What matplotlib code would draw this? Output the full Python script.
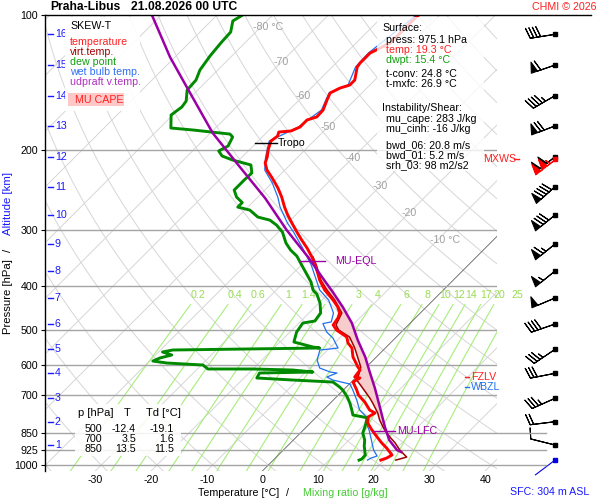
import numpy as np
import matplotlib
matplotlib.use("Agg")
import matplotlib.pyplot as plt
from matplotlib.lines import Line2D
from matplotlib.patches import Rectangle

plt.rcParams['font.family'] = ['Liberation Sans', 'DejaVu Sans']

# ---------------- data ----------------
station = "Praha-Libus"
valid_time = "21.08.2026 00 UTC"

temp_p = [100.0, 102.6, 108.0, 115.5, 118.4, 121.5, 127.9, 130.5, 139.5, 143.1, 145.3, 149.0,
          154.5, 162.6, 168.5, 171.1, 177.4, 181.0, 182.0, 185.8, 190.6, 199.5, 206.8, 213.2,
          221.1, 229.2, 236.3, 242.4, 253.9, 267.2, 278.3, 290.0, 303.6, 316.3, 329.5, 345.1,
          359.4, 374.5, 388.1, 408.4, 429.9, 445.6, 459.4, 471.4, 488.5, 501.2, 519.5, 535.7,
          549.5, 575.4, 605.7, 615.0, 637.4, 640.6, 653.9, 681.3, 698.9, 724.4, 754.6, 766.3,
          782.0, 806.6, 835.9, 866.5, 893.3, 916.9, 950.1, 964.7, 975.1]
temp_t = [-53.8, -53.9, -53.9, -53.9, -54.8, -55.7, -55.7, -55.5, -53.6, -53.6, -54.8, -55.7,
          -55.0, -53.9, -53.8, -55.0, -55.0, -55.9, -57.9, -57.4, -57.7, -56.6, -55.5, -54.8,
          -53.2, -51.1, -49.4, -48.0, -45.7, -43.4, -41.4, -39.2, -36.7, -34.4, -32.0, -29.5,
          -27.5, -25.6, -24.0, -21.3, -18.0, -15.9, -14.5, -13.9, -13.5, -12.0, -8.9, -7.6,
          -6.0, -4.2, -1.5, -0.6, -0.3, 0.8, 0.3, 2.4, 3.6, 6.0, 8.3, 9.8,
          9.3, 10.3, 12.3, 14.5, 16.4, 18.2, 20.4, 20.0, 19.3]

tv_p = [345.1, 359.4, 374.5, 388.1, 408.4, 429.9, 459.4, 488.5, 501.2, 519.5, 549.5, 605.7,
        637.4, 647.3, 671.0, 710.0, 728.1, 766.3, 794.3, 831.6, 866.5, 893.3, 926.1, 960.0, 975.1]
tv_t = [-29.3, -27.3, -25.4, -23.8, -20.9, -17.7, -14.1, -13.0, -11.6, -8.4, -5.5, -1.0,
        0.3, 0.6, 2.8, 6.2, 7.6, 10.3, 11.9, 14.3, 16.8, 18.8, 20.9, 23.4, 22.0]

dwpt_p = [100.0, 103.1, 109.1, 115.4, 123.4, 132.5, 139.5, 146.8, 155.3, 160.1, 166.8, 178.3,
          180.1, 183.9, 186.7, 195.5, 200.5, 205.7, 210.0, 215.4, 224.4, 232.7, 244.9, 253.9,
          261.1, 267.2, 271.3, 281.2, 285.6, 293.0, 303.6, 321.1, 332.9, 343.3, 357.6, 376.4,
          392.0, 408.4, 416.9, 436.6, 459.4, 478.6, 483.6, 506.4, 532.9, 546.6, 549.5, 555.1,
          560.8, 569.5, 578.4, 587.4, 593.4, 599.5, 611.8, 611.8, 615.0, 621.3, 624.5, 640.6,
          647.3, 654.0, 671.0, 681.3, 705.3, 728.1, 754.6, 774.2, 782.0, 786.0, 823.2, 848.9,
          879.8, 907.3, 950.1, 969.7, 975.1]
dwpt_t = [-85.4, -86.1, -84.5, -84.3, -83.9, -83.2, -82.1, -81.9, -80.1, -79.8, -80.3, -78.0,
          -73.7, -66.3, -65.3, -64.5, -65.3, -63.8, -61.2, -57.0, -55.4, -55.5, -55.5, -53.8,
          -51.8, -51.8, -49.1, -46.4, -43.7, -41.6, -39.3, -36.7, -34.6, -32.4, -30.2, -27.4,
          -25.2, -23.4, -22.0, -19.8, -17.9, -17.5, -19.3, -18.8, -17.5, -13.2, -11.8, -37.8,
          -39.3, -37.1, -38.7, -39.4, -36.5, -29.7, -28.1, -20.0, -12.7, -8.7, -18.1, -17.7,
          -10.9, -3.3, -1.2, -0.1, 1.9, 3.5, 5.1, 6.2, 8.4, 9.3, 10.5, 11.2,
          12.8, 13.8, 15.6, 15.7, 15.4]

wetb_p = [100.0, 121.5, 130.5, 143.1, 149.0, 162.6, 177.4, 190.6, 206.8, 221.1, 236.3, 253.9,
          267.2, 290.0, 303.6, 329.5, 359.4, 388.1, 408.4, 429.9, 459.4, 480.8, 485.0, 506.4,
          522.2, 549.5, 552.3, 555.1, 584.3, 608.8, 621.3, 624.5, 637.4, 647.3, 660.7, 681.3,
          717.0, 754.6, 782.0, 806.6, 835.9, 879.8, 926.1, 954.9, 964.7, 975.1]
wetb_t = [-54.2, -56.0, -55.8, -53.9, -55.9, -54.2, -55.3, -58.0, -55.8, -53.6, -49.9, -46.4,
          -44.2, -40.0, -37.3, -32.8, -28.2, -24.6, -22.2, -18.8, -15.6, -14.4, -15.6, -13.4,
          -11.2, -8.5, -9.8, -11.4, -10.1, -8.2, -5.6, -4.2, -5.3, -3.7, 0.1, 1.7,
          4.2, 6.5, 9.0, 10.0, 11.8, 14.0, 16.2, 17.9, 17.2, 16.9]

parcel_p = [100.0, 124.0, 144.6, 182.9, 217.7, 255.2, 300.5, 345.1, 384.2, 412.6, 445.6,
            483.6, 527.5, 575.4, 621.3, 674.4, 743.2, 823.2, 879.8, 926.1, 935.7]
parcel_t = [-101.7, -90.9, -82.5, -69.6, -58.6, -48.5, -38.9, -30.2, -23.8, -19.5, -15.0,
            -10.5, -6.4, -2.0, 1.5, 5.3, 9.6, 14.1, 17.2, 20.4, 21.5]

# special levels [hPa]
tropo_p = 192.5
eql_p = 352.5
lfc_p = 840.0
fzlv_p = 637.0
wbzl_p = 671.0
mxws_p = 209.0
sfc_p = 975.1

# altitude scale (km) and winds at those levels (direction deg, speed kt)
km_levels = list(range(1, 17))
km_p = [902.6, 801.2, 710.8, 625.5, 553.3, 486.1, 425.4, 370.6, 322.8, 278.3,
        240.7, 206.5, 176.4, 151.1, 129.2, 110.4]
wind_dir = [284, 263, 246, 259, 236, 251, 247, 231, 231, 231, 228, 231, 249, 240, 251, 261]
wind_spd = [10, 20, 35, 30, 35, 40, 50, 55, 65, 80, 90, 100, 70, 45, 60, 40]
mxws_dir, mxws_spd = 232, 105
sfc_dir, sfc_spd = 233, 2

p_ticks = [100, 200, 300, 400, 500, 600, 700, 850, 925, 1000]
t_ticks = [-30, -20, -10, 0, 10, 20, 30, 40]
mix_ratios = [0.2, 0.4, 0.6, 1, 1.4, 2, 3, 4, 6, 8, 10, 12, 14, 17, 20, 25]
mix_labels = ["0.2", "0.4", "0.6", "1", "1.4", "2", "3", "4", "6", "8", "10", "12", "14", "17", "20", "25"]
iso_lab_t = [-80, -70, -60, -50, -40, -30, -20, -10]
iso_lab_p = [106.3, 127.2, 151.4, 177.4, 207.4, 239.9, 275.5, 316.3]

table_p = ["500", "700", "850"]
table_t = ["-12.4", "3.5", "13.5"]
table_td = ["-19.1", "1.6", "11.5"]

surface_lines = [("Surface:", 'k', 382), ("press: 975.1 hPa", 'k', 386), ("temp: 19.3 °C", '#ff2020', 386),
                 ("dwpt: 15.4 °C", '#10a010', 386), ("t-conv: 24.8 °C", 'k', 386),
                 ("t-mxfc: 26.9 °C", 'k', 386), ("Instability/Shear:", 'k', 382),
                 ("mu_cape: 283 J/kg", 'k', 386), ("mu_cinh: -16 J/kg", 'k', 386),
                 ("bwd_06: 20.8 m/s", 'k', 386), ("bwd_01: 5.2 m/s", 'k', 386),
                 ("srh_03: 98 m2/s2", 'k', 386)]
surface_y = [28, 40, 50, 60, 74, 84, 108, 119, 129, 145, 155, 165]

# ---------------- geometry ----------------
P_BOT, P_TOP = 1031.0, 100.0
SKEW = 80.79          # degC of x-shift per decade of pressure (45 deg isotherms)
X_LEFT, X_RIGHT = -39.03, 42.12
PXC = 5.57            # pixels per degC


def skx(t, p):
    return np.asarray(t, dtype=float) + SKEW * np.log10(P_BOT / np.asarray(p, dtype=float))


W, H = 600.0, 500.0
def fx(x): return x / W
def fy(y): return 1 - y / H

C_RED = '#ff0000'
C_DRED = '#a00000'
C_GREEN = '#008a00'
C_BLUE = '#2070f0'
C_PURP = '#9a00a6'
C_GRID = '#d6d6d6'
C_ISOB = '#a4a4a4'
C_MIX = '#a6ee7a'
C_MIXT = '#99dd55'
FS = 7.7

fig = plt.figure(figsize=(6, 5), dpi=100)
L, R, T_, B = 45, 497, 15, 471
ax = fig.add_axes([fx(L), fy(B), (R - L) / W, (B - T_) / H])
ax.set_yscale('log')
ax.set_ylim(P_BOT, P_TOP)
ax.set_xlim(X_LEFT, X_RIGHT)
ax.minorticks_off()
ax.set_yticks(p_ticks)
ax.set_yticklabels([str(v) for v in p_ticks])
ax.set_xticks(t_ticks)
ax.set_xticklabels([str(v) for v in t_ticks])
ax.tick_params(axis='x', length=0, pad=3, labelsize=FS)
ax.tick_params(axis='y', length=3, width=0.8, pad=2, labelsize=FS)
for s in ['top', 'right', 'bottom']:
    ax.spines[s].set_visible(False)
ax.spines['left'].set_linewidth(1.0)

pp = np.logspace(np.log10(P_BOT), np.log10(P_TOP), 200)
# isotherms
for t0 in range(-170, 60, 10):
    if t0 == 0:
        ax.plot(skx(t0, pp), pp, color='#606060', lw=0.6, zorder=1.2)
    else:
        ax.plot(skx(t0, pp), pp, color=C_GRID, lw=0.7, zorder=1)
# dry adiabats
for th in range(-40, 210, 10):
    tt = (th + 273.15) * (pp / 1000.0) ** 0.2857 - 273.15
    ax.plot(skx(tt, pp), pp, color=C_GRID, lw=0.7, zorder=1)
# mixing ratio lines
pm = np.logspace(np.log10(P_BOT), np.log10(440), 60)
def td_from_w(w, p):
    e = w * p / (622.0 + w)
    a = np.log(e / 6.112)
    return 243.5 * a / (17.67 - a)
for w, lab in zip(mix_ratios, mix_labels):
    ax.plot(skx(td_from_w(w, pm), pm), pm, color=C_MIX, lw=0.8, zorder=1.1)
    ax.text(skx(td_from_w(w, 419.0), 419.0), 419.0, lab, color=C_MIXT, fontsize=FS,
            ha='center', va='center', zorder=1.5, clip_on=False)
# isobars
for p in p_ticks[1:]:
    ax.axhline(p, color=C_ISOB, lw=1.0, zorder=1.3)
# isotherm labels
for t0, p in zip(iso_lab_t, iso_lab_p):
    if t0 in (-80, -10):
        ax.text(skx(t0, p) - 1.4, p, f"{t0} °C", color='#a0a0a0', fontsize=FS, ha='left', va='center', zorder=1.5)
    else:
        ax.text(skx(t0, p), p, f"{t0}", color='#a0a0a0', fontsize=FS, ha='center', va='center', zorder=1.5)

# CAPE area
def interp_t(plist, tlist, pq):
    lp = np.log(np.asarray(plist))
    o = np.argsort(lp)
    return np.interp(np.log(pq), lp[o], np.asarray(tlist)[o])

pg = np.exp(np.linspace(np.log(eql_p), np.log(lfc_p), 300))
tv_g = interp_t(tv_p, tv_t, pg)
par_g = interp_t(parcel_p, parcel_t, pg)
ax.fill_betweenx(pg, skx(tv_g, pg), skx(par_g, pg), where=par_g > tv_g,
                 color='#f7cccc', lw=0, zorder=2, interpolate=True)

# profiles
ax.plot(skx(wetb_t, wetb_p), wetb_p, color=C_BLUE, lw=0.9, zorder=3)
ax.plot(skx(tv_t, tv_p), tv_p, color=C_DRED, lw=1.1, zorder=3.2)
ax.plot(skx(dwpt_t, dwpt_p), dwpt_p, color=C_GREEN, lw=2.1, zorder=3.4)
ax.plot(skx(temp_t, temp_p), temp_p, color=C_RED, lw=2.1, zorder=3.5)
ax.plot(skx(parcel_t, parcel_p), parcel_p, color=C_PURP, lw=1.8, zorder=3.6)

# level annotations (x offsets in degC of skewed axis)
def px2X(x):
    return (x - 262.4) / PXC
ax.plot([px2X(255), px2X(277)], [tropo_p, tropo_p], color='k', lw=1, zorder=4)
ax.text(px2X(278), tropo_p, "Tropo", fontsize=FS, color='k', va='center', ha='left', zorder=4)
ax.plot([px2X(300), px2X(325)], [eql_p, eql_p], color=C_PURP, lw=1, zorder=4)
ax.text(px2X(335), eql_p, "MU-EQL", fontsize=FS, color=C_PURP, va='center', ha='left', zorder=4)
ax.plot([px2X(373), px2X(395)], [lfc_p, lfc_p], color=C_PURP, lw=1, zorder=4)
ax.text(px2X(397), lfc_p, "MU-LFC", fontsize=FS, color=C_PURP, va='center', ha='left', zorder=4)
ax.plot([px2X(465), px2X(469)], [fzlv_p, fzlv_p], color='#ff2020', lw=1, zorder=4, clip_on=False)
ax.text(px2X(471), fzlv_p, "FZLV", fontsize=FS, color='#ff2020', va='center', ha='left', zorder=4, clip_on=False)
ax.plot([px2X(465), px2X(469)], [wbzl_p, wbzl_p], color=C_BLUE, lw=1, zorder=4, clip_on=False)
ax.text(px2X(471), wbzl_p, "WBZL", fontsize=FS, color=C_BLUE, va='center', ha='left', zorder=4, clip_on=False)
ax.text(px2X(483), mxws_p, "MXWS", fontsize=FS, color='#ff2020', va='center', ha='left', zorder=4, clip_on=False)
ax.plot([px2X(514), px2X(519)], [mxws_p, mxws_p], color='#ff2020', lw=1, zorder=4, clip_on=False)

# altitude scale
yt = ax.get_yaxis_transform()
for km, p in zip(km_levels, km_p):
    ax.plot([0.007, 0.018], [p, p], color='#1a1aff', lw=1, transform=yt, zorder=4, clip_on=False)
    ax.text(0.022, p, str(km), color='#1a1aff', fontsize=FS, transform=yt, va='center', ha='left', zorder=4)

# ---------------- wind barbs ----------------
ax2 = fig.add_axes([fx(R), fy(B), (W - R) / W, (B - T_) / H])
ax2.set_yscale('log')
ax2.set_ylim(P_BOT, P_TOP)
ax2.set_xlim(0, W - R)
ax2.axis('off')
for p in [850, 925, 1000]:
    ax2.plot([0, 49], [p, p], color=C_ISOB, lw=1.0)
BX = 58
BL = 6.0
d = np.radians(wind_dir)
s = np.asarray(wind_spd, dtype=float)
u = -s * np.sin(d)
v = -s * np.cos(d)
bsizes = dict(spacing=0.14, height=0.42, width=0.26)
ax2.barbs(np.full(len(km_p), BX), km_p, u, v, length=BL, linewidth=0.8, color='k',
          sizes=bsizes, clip_on=False)
ax2.plot(np.full(len(km_p), BX), km_p, 's', ms=2.6, color='k', clip_on=False)
dm = np.radians(mxws_dir)
ax2.barbs([BX], [mxws_p], [-mxws_spd * np.sin(dm)], [-mxws_spd * np.cos(dm)], length=BL,
          linewidth=0.8, color='#ff0000', sizes=bsizes, clip_on=False)
ax2.plot([BX], [mxws_p], 's', ms=2.6, color='#ff0000', clip_on=False)
ds = np.radians(sfc_dir)
ax2.quiver([BX], [sfc_p], [-sfc_spd * np.sin(ds)], [-sfc_spd * np.cos(ds)], color='#0000e0',
           angles='uv', pivot='tip', scale_units='inches', scale=sfc_spd / 0.25,
           units='dots', width=1.1, headwidth=0, headlength=0, headaxislength=0, clip_on=False)
ax2.plot([BX], [sfc_p], 's', ms=2.6, color='#0000e0', clip_on=False)

# top frame line
fig.add_artist(Line2D([fx(45), fx(591)], [fy(15), fy(15)], color='k', lw=1.0))

# ---------------- boxes and text ----------------
def box(x0, y0, x1, y1, fc='white', alpha=0.85):
    fig.add_artist(Rectangle((fx(x0), fy(y1)), (x1 - x0) / W, (y1 - y0) / H,
                             facecolor=fc, edgecolor='none', alpha=alpha, zorder=5))

box(65, 17, 140, 111, alpha=0.92)
box(68, 93, 124, 106, fc='#ffc8c8', alpha=1.0)
leg = [("SKEW-T", 'k', 26), ("temperature", '#ff2020', 42), ("virt.temp.", C_DRED, 52),
       ("dew point", '#10a010', 62), ("wet bulb temp.", '#3070f0', 72), ("udpraft v.temp.", '#b030c0', 82)]
for txt, c, y in leg:
    fig.text(fx(70), fy(y), txt, color=c, fontsize=FS, va='center', ha='left', zorder=6)
fig.text(fx(75), fy(100), "MU CAPE", color='#ff2020', fontsize=FS, va='center', ha='left', zorder=6)

box(377, 17, 484, 171, alpha=0.8)
for (txt, c, x), y in zip(surface_lines, surface_y):
    fig.text(fx(x), fy(y), txt, color=c, fontsize=FS, va='center', ha='left', zorder=6)

box(75, 404, 181, 456, alpha=0.88)
fig.text(fx(78), fy(413), "p [hPa]", fontsize=8, va='center', ha='left', zorder=6)
fig.text(fx(127), fy(413), "T", fontsize=8, va='center', ha='center', zorder=6)
fig.text(fx(146.5), fy(413), "Td [°C]", fontsize=8, va='center', ha='left', zorder=6)
for i, y in enumerate([429, 439, 449]):
    fig.text(fx(102), fy(y), table_p[i], fontsize=FS, va='center', ha='right', zorder=6)
    fig.text(fx(136), fy(y), table_t[i], fontsize=FS, va='center', ha='right', zorder=6)
    fig.text(fx(174), fy(y), table_td[i], fontsize=FS, va='center', ha='right', zorder=6)

fig.text(fx(50.5), fy(7), station, fontsize=8.7, fontweight='bold', va='center', ha='left')
fig.text(fx(131), fy(7), valid_time, fontsize=8.7, fontweight='bold', va='center', ha='left')
fig.text(fx(596), fy(7), "CHMI © 2026", fontsize=FS, color='#ff2020', va='center', ha='right')
fig.text(fx(589), fy(492), "SFC: 304 m ASL", fontsize=FS, color='#1a1aff', va='center', ha='right')

fig.text(fx(239), fy(493), "Temperature [°C]", fontsize=FS, va='center', ha='center')
fig.text(fx(288), fy(493), "/", fontsize=FS, va='center', ha='center')
fig.text(fx(345), fy(493), "Mixing ratio [g/kg]", fontsize=FS, color='#44cc33', va='center', ha='center')

fig.text(fx(8), fy(297), "Pressure [hPa]", fontsize=8.2, rotation=90, va='center', ha='center')
fig.text(fx(8), fy(250), "/", fontsize=8.2, rotation=90, va='center', ha='center')
fig.text(fx(8), fy(204), "Altitude [km]", fontsize=8.2, color='#1a1aff', rotation=90, va='center', ha='center')

fig.savefig("out.png", dpi=100)
